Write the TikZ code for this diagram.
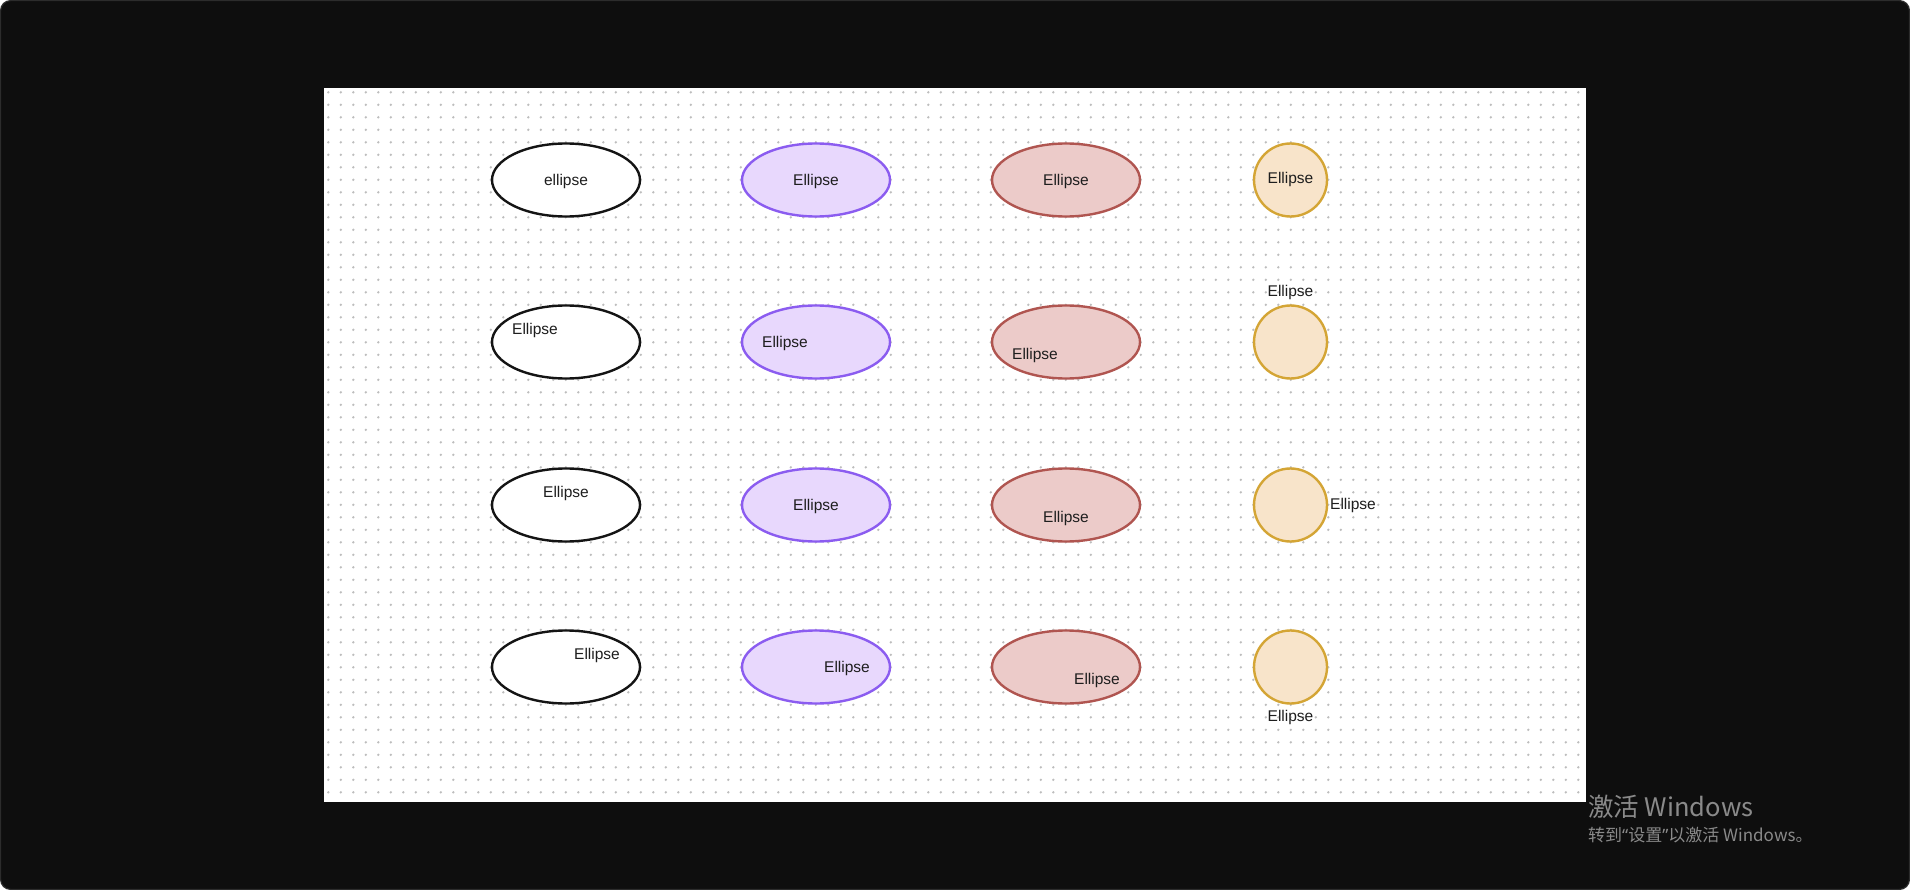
\documentclass[tikz,border=0pt]{standalone}
\usepackage{fontspec}
\setmainfont{Liberation Sans}
\newfontfamily\cjkfont{Noto Sans CJK SC}
\newfontfamily\quotefont{Noto Sans}
\usetikzlibrary{shapes.geometric,calc}
\definecolor{framebg}{HTML}{0E0E0E}
\definecolor{frameedge}{HTML}{2C2C2C}
\definecolor{dotc}{HTML}{BDBDBD}
\definecolor{blkstroke}{HTML}{141414}
\definecolor{purstroke}{HTML}{8B5CF0}
\definecolor{purfill}{HTML}{E8D8FD}
\definecolor{redstroke}{HTML}{B05550}
\definecolor{redfill}{HTML}{ECCBC9}
\definecolor{yelstroke}{HTML}{D4A535}
\definecolor{yelfill}{HTML}{F8E4CA}
\definecolor{txtc}{HTML}{1E1E1E}
\definecolor{wmc}{HTML}{8A8A8A}
\tikzset{
  ell/.style={ellipse, line width=2.4pt, minimum width=148pt, minimum height=73pt, inner sep=0pt},
  blk/.style={ell, draw=blkstroke, fill=white},
  pur/.style={ell, draw=purstroke, fill=purfill},
  red/.style={ell, draw=redstroke, fill=redfill},
  yel/.style={circle, line width=2.4pt, minimum size=73pt, inner sep=0pt, draw=yelstroke, fill=yelfill},
  lbl/.style={text=txtc, font=\fontsize{15.5}{18}\selectfont, inner sep=0pt},
  wm/.style={text=wmc, anchor=west, inner sep=0pt}
}
\begin{document}
\begin{tikzpicture}[x=1pt,y=-1pt]
\useasboundingbox (0,0) rectangle (1910,890);
\fill[white] (0,0) rectangle (1910,890);
\draw[fill=framebg, draw=frameedge, line width=1.2pt, rounded corners=10pt] (0.6,0.6) rectangle (1909.4,889.4);
% canvas
\fill[white] (324,88) rectangle (1586,802);
\foreach \j in {0,...,56} {
  \fill[dotc] \foreach \i in {0,...,100} { (328.3+12.5*\i, 92.3+12.5*\j) circle (1.3) };
}
% row 1
\node[blk] (e11) at (566,180) {};
\node[pur] (e12) at (816,180) {};
\node[red] (e13) at (1066,180) {};
\node[yel] (e14) at (1290.5,180) {};
% row 2
\node[blk] (e21) at (566,342) {};
\node[pur] (e22) at (816,342) {};
\node[red] (e23) at (1066,342) {};
\node[yel] (e24) at (1290.5,342) {};
% row 3
\node[blk] (e31) at (566,505) {};
\node[pur] (e32) at (816,505) {};
\node[red] (e33) at (1066,505) {};
\node[yel] (e34) at (1290.5,505) {};
% row 4
\node[blk] (e41) at (566,667) {};
\node[pur] (e42) at (816,667) {};
\node[red] (e43) at (1066,667) {};
\node[yel] (e44) at (1290.5,667) {};
% labels
\node[lbl] (t11) at ($(e11)+(0,1)$) {ellipse};
\node[lbl] (t12) at ($(e12)+(0,1)$) {Ellipse};
\node[lbl] (t13) at ($(e13)+(0,1)$) {Ellipse};
\node[lbl] (t14) at ($(e14)+(0,-0.5)$) {Ellipse};
\node[lbl] (t21) at ($(e21)+(-31,-11.5)$) {Ellipse};
\node[lbl] (t22) at ($(e22)+(-31,1)$) {Ellipse};
\node[lbl] (t23) at ($(e23)+(-31,13.5)$) {Ellipse};
\node[lbl] (t24) at ($(e24)+(0,-49.5)$) {Ellipse};
\node[lbl] (t31) at ($(e31)+(0,-11.5)$) {Ellipse};
\node[lbl] (t32) at ($(e32)+(0,1)$) {Ellipse};
\node[lbl] (t33) at ($(e33)+(0,13.5)$) {Ellipse};
\node[lbl] (t34) at ($(e34)+(62.5,0)$) {Ellipse};
\node[lbl] (t41) at ($(e41)+(31,-11.5)$) {Ellipse};
\node[lbl] (t42) at ($(e42)+(31,1)$) {Ellipse};
\node[lbl] (t43) at ($(e43)+(31,13.5)$) {Ellipse};
\node[lbl] (t44) at ($(e44)+(0,50.5)$) {Ellipse};
% watermark
\node[wm, font=\cjkfont\fontsize{25.5}{30}\selectfont] (w1) at (1588,807) {激活 Windows};
\node[wm, font=\cjkfont\fontsize{17}{20}\selectfont] (w2) at (1588,835) {转到{\quotefont“}设置{\quotefont”}以激活 Windows。};
\end{tikzpicture}
\end{document}
